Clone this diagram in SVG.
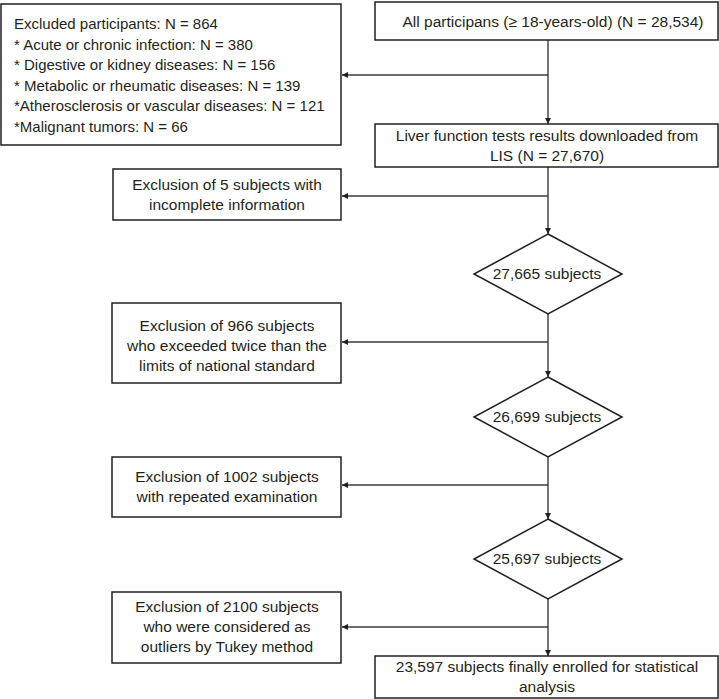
<svg xmlns="http://www.w3.org/2000/svg" width="719" height="699" viewBox="0 0 719 699">
<style>
.box{fill:#fff;stroke:#231f20;stroke-width:1.5}
.t{font-family:"Liberation Sans",Arial,sans-serif;font-size:15.5px;fill:#231f20}
.s{font-size:15px}
.c{text-anchor:middle}
.ln{fill:none;stroke:#3a3a3a;stroke-width:1.4}
</style>
<defs>
<marker id="ah" viewBox="0 0 10 10" refX="10" refY="5" markerWidth="9" markerHeight="6" markerUnits="userSpaceOnUse" orient="auto">
<path d="M0,0 L10,5 L0,10 Z" fill="#231f20"/>
</marker>
</defs>
<rect width="719" height="699" fill="#fff"/>
<g id="connectors">
<line class="ln" x1="548" y1="40" x2="548" y2="124" marker-end="url(#ah)"/>
<line class="ln" x1="548" y1="75" x2="342" y2="75" marker-end="url(#ah)"/>
<line class="ln" x1="548" y1="167" x2="548" y2="234" marker-end="url(#ah)"/>
<line class="ln" x1="548" y1="196" x2="342" y2="196" marker-end="url(#ah)"/>
<line class="ln" x1="548" y1="314" x2="548" y2="377" marker-end="url(#ah)"/>
<line class="ln" x1="548" y1="342" x2="342" y2="342" marker-end="url(#ah)"/>
<line class="ln" x1="548" y1="457" x2="548" y2="519" marker-end="url(#ah)"/>
<line class="ln" x1="548" y1="485" x2="342" y2="485" marker-end="url(#ah)"/>
<line class="ln" x1="548" y1="599" x2="548" y2="656" marker-end="url(#ah)"/>
<line class="ln" x1="548" y1="627" x2="342" y2="627" marker-end="url(#ah)"/>
</g>
<g id="excluded">
<rect class="box" x="1" y="4" width="340" height="141"/>
<text class="t s" x="14" y="29">Excluded participants: N = 864</text>
<text class="t s" x="14" y="49.5">* Acute or chronic infection: N = 380</text>
<text class="t s" x="14" y="70">* Digestive or kidney diseases: N = 156</text>
<text class="t s" x="14" y="90.5">* Metabolic or rheumatic diseases: N = 139</text>
<text class="t s" x="14" y="111">*Atherosclerosis or vascular diseases: N = 121</text>
<text class="t s" x="14" y="131.5">*Malignant tumors: N = 66</text>
</g>
<g id="all">
<rect class="box" x="375" y="2" width="343" height="38"/>
<text class="t c" x="553" y="26.5">All participans (≥ 18-years-old) (N = 28,534)</text>
</g>
<g id="liver">
<rect class="box" x="375" y="124" width="343" height="43"/>
<text class="t c" x="547" y="141">Liver function tests results downloaded from</text>
<text class="t c" x="547" y="161">LIS (N = 27,670)</text>
</g>
<g id="excl5">
<rect class="box" x="113" y="169" width="228" height="51"/>
<text class="t c" x="227" y="190">Exclusion of 5 subjects with</text>
<text class="t c" x="227" y="210">incomplete information</text>
</g>
<g id="d1">
<polygon class="box" points="548,234 622,274 548,314 474,274"/>
<text class="t c" x="547" y="279">27,665 subjects</text>
</g>
<g id="excl966">
<rect class="box" x="112" y="303" width="229" height="80"/>
<text class="t c" x="227" y="331">Exclusion of 966 subjects</text>
<text class="t c" x="227" y="351">who exceeded twice than the</text>
<text class="t c" x="227" y="371">limits of national standard</text>
</g>
<g id="d2">
<polygon class="box" points="548,377 622,417 548,457 474,417"/>
<text class="t c" x="547" y="422">26,699 subjects</text>
</g>
<g id="excl1002">
<rect class="box" x="112" y="457" width="229" height="60"/>
<text class="t c" x="227" y="482">Exclusion of 1002 subjects</text>
<text class="t c" x="227" y="502">with repeated examination</text>
</g>
<g id="d3">
<polygon class="box" points="548,519 622,559 548,599 474,559"/>
<text class="t c" x="547" y="564">25,697 subjects</text>
</g>
<g id="excl2100">
<rect class="box" x="112" y="592" width="229" height="71"/>
<text class="t c" x="227" y="612">Exclusion of 2100 subjects</text>
<text class="t c" x="227" y="632">who were considered as</text>
<text class="t c" x="227" y="652">outliers by Tukey method</text>
</g>
<g id="final">
<rect class="box" x="375" y="656" width="343" height="42"/>
<text class="t c" x="547" y="672">23,597 subjects finally enrolled for statistical</text>
<text class="t c" x="547" y="692">analysis</text>
</g>
</svg>
